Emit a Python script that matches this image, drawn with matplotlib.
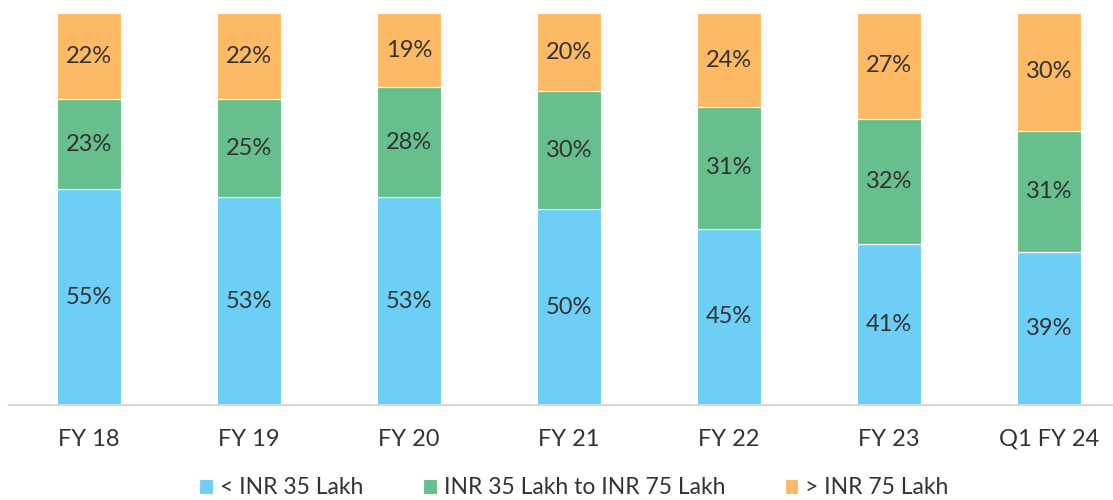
import numpy as np
import matplotlib.pyplot as plt

# ----- Data ----- #
categories = ["FY 18", "FY 19", "FY 20", "FY 21", "FY 22", "FY 23", "Q1 FY 24"]
below_35 = [55, 53, 53, 50, 45, 41, 39]
mid_35_75 = [23, 25, 28, 30, 31, 32, 31]
above_75 = [22, 22, 19, 20, 24, 27, 30]
series_names = ["< INR 35 Lakh", "INR 35 Lakh to INR 75 Lakh", "> INR 75 Lakh"]
colors = ["#6dcff6", "#66bf8c", "#fdb963"]

plt.rcParams['font.family'] = ['Lato', 'DejaVu Sans']
text_color = "#333333"

fig = plt.figure(figsize=(11.13, 5.0), dpi=100)
ax = fig.add_axes([9/1113, 95/500, 1104/1113, 392/500])

x = np.arange(len(categories))
bottom = np.zeros(len(categories))
for vals, name, col in zip([below_35, mid_35_75, above_75], series_names, colors):
    vals = np.array(vals)
    ax.bar(x, vals, 0.4, bottom=bottom, color=col, label=name,
           edgecolor="white", linewidth=0.8)
    for xi, b, v in zip(x, bottom, vals):
        ax.text(xi, b + v / 2, f"{v}%", ha="center", va="center",
                fontsize=17, color=text_color)
    bottom += vals

ax.set_xlim(-0.5, -0.5 + 1104/160)
ax.set_ylim(0, 100)
ax.set_xticks(x)
ax.set_xticklabels(categories, fontsize=17, color=text_color)
ax.tick_params(axis="x", length=0, pad=17)
ax.set_yticks([])
for s in ["top", "right", "left"]:
    ax.spines[s].set_visible(False)
ax.spines["bottom"].set_color("#d9d9d9")
ax.spines["bottom"].set_linewidth(1.5)

leg = fig.legend(loc="center", bbox_to_anchor=(574/1113, 1 - 488/500), ncol=3,
                 frameon=False, fontsize=16.5,
                 handlelength=0.6, handleheight=0.6,
                 handletextpad=0.3, columnspacing=2.6)
for t in leg.get_texts():
    t.set_color(text_color)

fig.savefig("out.png", dpi=100)
